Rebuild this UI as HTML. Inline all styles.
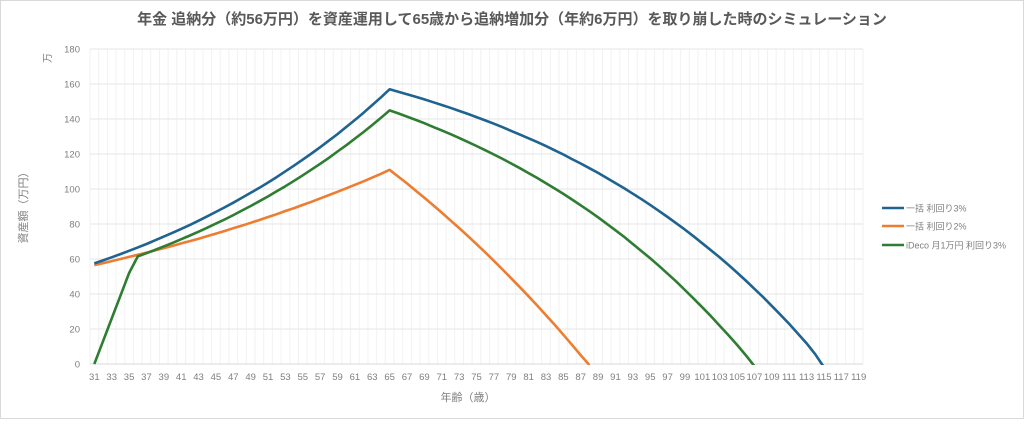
<!DOCTYPE html>
<html><head><meta charset="utf-8"><style>
body{margin:0;background:#fff;}
svg text{font-family:"Liberation Sans","Noto Sans CJK JP",sans-serif;}
</style></head><body>
<svg id="chart" width="1024" height="419" viewBox="0 0 1024 419" xmlns="http://www.w3.org/2000/svg">
<defs><clipPath id="plotclip"><rect x="88" y="40" width="780" height="325"/></clipPath></defs>
<rect x="0.5" y="0.5" width="1023" height="418" fill="#fff" stroke="#d9d9d9"/>
<text x="512" y="24" text-anchor="middle" font-size="15" font-weight="bold" fill="#595959">年金 追納分（約56万円）を資産運用して65歳から追納増加分（年約6万円）を取り崩した時のシミュレーション</text>
<g id="grid"></g>
<g id="axes"></g>
<g id="series" clip-path="url(#plotclip)"></g>
<text transform="translate(27,205) rotate(-90)" text-anchor="middle" font-size="11" fill="#808080">資産額（万円）</text>
<text transform="translate(51,58) rotate(-90)" text-anchor="middle" font-size="10" fill="#808080">万</text>
<text x="468" y="401" text-anchor="middle" font-size="11" fill="#808080">年齢（歳）</text>
<g>
<g><line x1="882" y1="208" x2="904" y2="208" stroke="#1f6391" stroke-width="2.5"/><text x="906" y="211.5" font-size="9" fill="#7f7f7f">一括 利回り3%</text></g>
<g><line x1="882" y1="226" x2="904" y2="226" stroke="#ed7d31" stroke-width="2.5"/><text x="906" y="229.5" font-size="9" fill="#7f7f7f">一括 利回り2%</text></g>
<g><line x1="882" y1="245" x2="904" y2="245" stroke="#2e7d32" stroke-width="2.5"/><text x="906" y="248.5" font-size="9" fill="#7f7f7f">iDeco 月1万円 利回り3%</text></g>
</g>
</svg>
<script>
const ages = [];
for (let a = 31; a <= 119; a++) ages.push(a);
const yTicks = [0,20,40,60,80,100,120,140,160,180];
const lump3 = [57.5,59.2,61.0,62.8,64.7,66.6,68.6,70.7,72.8,75.0,77.2,79.5,81.9,84.4,86.9,89.5,92.2,95.0,97.8,100.7,103.7,106.8,110.1,113.4,116.8,120.3,123.9,127.6,131.4,135.4,139.4,143.6,148.0,152.4,157.0,
155.6,154.2,152.7,151.2,149.6,148.0,146.4,144.6,142.9,141.1,139.2,137.3,135.3,133.2,131.1,129.0,126.8,124.5,122.1,119.7,117.1,114.6,111.9,109.2,106.3,103.4,100.4,97.3,94.2,90.9,87.5,84.0,80.4,76.8,73.0,69.0,65.0,60.9,56.6,52.2,47.7,43.0,38.2,33.2,28.1,22.9,17.4,11.9,5.6,-1.8];
const lump2 = [56.5,57.6,58.8,60.0,61.2,62.4,63.6,64.9,66.2,67.5,68.9,70.2,71.6,73.1,74.5,76.0,77.6,79.1,80.7,82.3,84.0,85.6,87.4,89.1,90.9,92.7,94.6,96.5,98.4,100.4,102.4,104.4,106.5,108.7,111.0,
107.1,103.2,99.1,95.0,90.8,86.5,82.1,77.7,73.2,68.5,63.8,59.0,54.0,49.0,43.9,38.7,33.4,27.9,22.4,16.7,11.0,5.1,-0.6];
const ideco3 = [0,13,26,39,52,61.5,63.3,65.2,67.2,69.2,71.3,73.4,75.6,77.9,80.2,82.6,85.1,87.7,90.3,93.0,95.8,98.7,101.6,104.7,107.8,111.1,114.4,117.8,121.4,125.0,128.8,132.6,136.6,140.7,144.9,
143.2,141.4,139.5,137.6,135.5,133.5,131.4,129.2,126.9,124.6,122.2,119.7,117.2,114.6,111.9,109.1,106.3,103.3,100.3,97.2,94.0,90.7,87.3,83.8,80.1,76.4,72.6,68.6,64.5,60.4,56.1,51.6,47.1,42.3,37.4,32.4,27.3,21.9,16.5,10.9,5.1,-1.2];

const L=90,R=863,T=49,B=364,NS="http://www.w3.org/2000/svg";
const band=(R-L)/ages.length;
const x=i=>L+band*(i+0.5);
const y=v=>B-(v/180)*(B-T);
function mk(tag,attrs,parent){const e=document.createElementNS(NS,tag);for(const k in attrs)e.setAttribute(k,attrs[k]);parent.appendChild(e);return e;}
const grid=document.getElementById('grid'),axes=document.getElementById('axes'),ser=document.getElementById('series');
for(let i=0;i<=ages.length;i++){
  const l=mk('line',{x1:L+band*i,x2:L+band*i,y1:T,y2:B,stroke:'#f2f2f2','stroke-width':1},grid);
  
  
}
yTicks.forEach(v=>{
  const l=mk('line',{x1:L,x2:R,y1:y(v),y2:y(v),stroke:v===0?'#d9d9d9':'#e6e6e6','stroke-width':1},grid);
  
  
  const t=mk('text',{x:L-10,y:y(v)+3.5,'text-anchor':'end','font-size':9.5,fill:'#7f7f7f'},axes);
  t.textContent=v;
  
  
});
ages.forEach((a,i)=>{
  if(i%2) return;
  const t=mk('text',{x:x(i),y:B+16,'text-anchor':'middle','font-size':9.5,fill:'#7f7f7f'},axes);
  t.textContent=a;
  
  
});
function line(data,color,name){
  const d=data.map((v,i)=>(i?'L':'M')+x(i).toFixed(1)+','+y(v).toFixed(1)).join('');
  const p=mk('path',{d:d,fill:'none',stroke:color,'stroke-width':2.6,'stroke-linejoin':'round'},ser);
  
  
}
line(lump2,'#ed7d31','series-lump-2');
line(ideco3,'#2e7d32','series-ideco-3');
line(lump3,'#1f6391','series-lump-3');
</script>
</body></html>
